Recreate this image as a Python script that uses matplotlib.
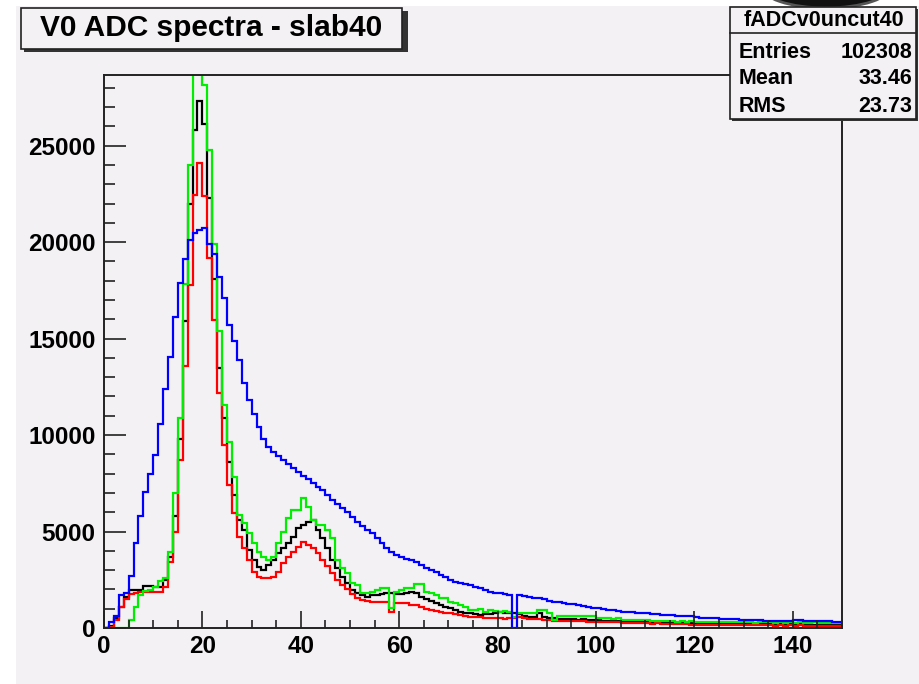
import numpy as np
import matplotlib
matplotlib.use("Agg")
import matplotlib.pyplot as plt
from matplotlib.patches import Rectangle, Ellipse
from matplotlib.ticker import MultipleLocator

plt.rcParams['font.family'] = ['Liberation Sans', 'DejaVu Sans']

# ADC bin edges (1 count per bin, 0..150)
bin_edges = list(range(0, 151))

# counts per bin, slab 40
black_counts = [
    0, 100, 500, 1100, 1600, 1950, 1950, 1950, 2200, 2200,
    2150, 2150, 2500, 3700, 5800, 9800, 15900, 22000, 25800, 27300,
    26150, 22300, 18100, 13500, 10900, 8600, 6900, 5600, 5080, 4040,
    3520, 3180, 3000, 3260, 3520, 3870, 4140, 4390, 4730, 5160,
    5340, 5500, 5600, 5080, 4660, 4140, 3520, 3090, 2660, 2310,
    1970, 1800, 1710, 1620, 1710, 1710, 1750, 1800, 1800, 1750,
    1750, 1800, 1880, 1800, 1620, 1500, 1400, 1280, 1190, 1100,
    1020, 930, 850, 800, 760, 720, 680, 700, 750, 800,
    820, 800, 780, 760, 700, 620, 590, 590, 760, 550,
    500, 500, 480, 460, 450, 450, 440, 450, 430, 440,
    420, 380, 360, 350, 350, 330, 330, 320, 310, 320,
    300, 300, 290, 290, 280, 280, 270, 260, 260, 250,
    240, 230, 240, 220, 230, 220, 210, 220, 210, 220,
    200, 210, 200, 210, 200, 190, 200, 190, 200, 190,
    180, 190, 180, 190, 180, 170, 180, 170, 180, 170,
]

red_counts = [
    0, 50, 400, 1100, 1500, 1750, 1800, 1850, 1850, 1850,
    1850, 1850, 2100, 3400, 5000, 8700, 13600, 17800, 22450, 24100,
    22400, 19200, 15950, 12200, 9500, 7400, 5950, 4700, 4150, 3500,
    2900, 2650, 2600, 2600, 2650, 2900, 3350, 3700, 3950, 4200,
    4450, 4300, 4150, 3900, 3500, 3200, 2850, 2500, 2250, 2000,
    1750, 1550, 1450, 1400, 1350, 1330, 1350, 1350, 850, 1290,
    1290, 1290, 1200, 1200, 1100, 1000, 930, 900, 850, 800,
    760, 700, 670, 620, 590, 590, 560, 520, 500, 500,
    500, 480, 500, 520, 560, 500, 480, 450, 450, 430,
    420, 380, 380, 370, 370, 360, 350, 340, 330, 330,
    330, 320, 330, 320, 300, 260, 250, 250, 240, 250,
    240, 230, 240, 230, 220, 230, 210, 200, 190, 160,
    170, 150, 160, 150, 140, 150, 140, 150, 140, 150,
    140, 130, 140, 130, 140, 130, 120, 130, 120, 130,
    120, 130, 120, 110, 120, 110, 120, 110, 120, 110,
]

green_counts = [
    0, 0, 0, 0, 0, 400, 1100, 1700, 1900, 1970,
    2100, 2450, 2600, 3950, 7000, 10900, 17850, 24000, 31500, 30500,
    28150, 24800, 19900, 15400, 11550, 9650, 7840, 5850, 5420, 4900,
    4390, 3950, 3690, 3520, 3690, 4390, 4990, 5680, 6110, 6110,
    6720, 6280, 5600, 5340, 5340, 5080, 4650, 3520, 3090, 2830,
    2310, 2230, 1800, 1800, 1850, 1970, 2060, 2060, 1020, 1850,
    1970, 2060, 2060, 2280, 2280, 1850, 1800, 1710, 1540, 1540,
    1360, 1280, 1190, 1100, 930, 930, 980, 850, 930, 880,
    850, 900, 850, 590, 760, 760, 760, 800, 930, 930,
    760, 410, 620, 620, 620, 600, 620, 620, 600, 620,
    500, 520, 500, 480, 500, 410, 430, 410, 400, 420,
    400, 360, 350, 370, 340, 360, 330, 350, 320, 340,
    310, 330, 300, 320, 300, 330, 290, 310, 300, 320,
    290, 310, 280, 300, 290, 310, 280, 300, 280, 290,
    270, 290, 280, 270, 290, 270, 280, 270, 280, 270,
]

blue_counts = [
    0, 300, 600, 1700, 1800, 2700, 4400, 5800, 7050, 8000,
    8950, 10600, 12400, 14050, 16100, 17900, 19150, 20100, 20500, 20650,
    20750, 19900, 19400, 18200, 17100, 15700, 14900, 13900, 12700, 11800,
    11100, 10400, 9800, 9400, 9100, 8900, 8700, 8500, 8300, 8100,
    7900, 7700, 7500, 7300, 7150, 6900, 6650, 6450, 6200, 6000,
    5750, 5500, 5300, 5100, 4900, 4650, 4400, 4150, 3950, 3800,
    3700, 3600, 3500, 3400, 3250, 3130, 3000, 2880, 2750, 2620,
    2490, 2400, 2310, 2270, 2230, 2150, 2060, 1970, 1880, 1840,
    1800, 1750, 1710, 0, 1710, 1650, 1620, 1580, 1530, 1480,
    1420, 1370, 1340, 1300, 1260, 1230, 1190, 1150, 1100, 1060,
    1020, 990, 950, 920, 880, 850, 840, 830, 800, 790,
    790, 750, 710, 680, 660, 650, 640, 630, 620, 610,
    590, 520, 510, 500, 500, 490, 480, 480, 470, 420,
    400, 400, 390, 390, 380, 380, 380, 370, 370, 360,
    420, 410, 370, 360, 350, 350, 340, 340, 330, 330,
]

x_major_ticks = [0, 20, 40, 60, 80, 100, 120, 140]
y_major_ticks = [0, 5000, 10000, 15000, 20000, 25000]

title_text = "V0 ADC spectra - slab40"
stats_name = "fADCv0uncut40"
stats_rows = [("Entries", "102308"), ("Mean", "33.46"), ("RMS", "23.73")]

BG = "#f4f1f5"
W, H = 920, 684

fig = plt.figure(figsize=(W / 100, H / 100), dpi=100)
fig.patch.set_facecolor("white")

def fx(px):
    return px / W

def fy(py):
    return 1 - py / H

# canvas area
fig.patches.append(Rectangle((fx(16), 0), fx(920 - 16), fy(6), transform=fig.transFigure,
                             facecolor=BG, edgecolor="none", zorder=-5))

ax = fig.add_axes([fx(104), fy(628), fx(842 - 104), (628 - 75) / H])
ax.set_facecolor(BG)
ax.set_zorder(1)

edges = np.array(bin_edges, dtype=float)
for counts, color in [(black_counts, "black"), (red_counts, "#ff0000"),
                      (green_counts, "#00ee00"), (blue_counts, "#0000ff")]:
    ax.stairs(np.array(counts, dtype=float), edges, baseline=None,
              color=color, linewidth=1.6)

ymax = max(black_counts) * 1.05
ax.set_xlim(0, 150)
ax.set_ylim(0, ymax)

ax.set_xticks(x_major_ticks)
ax.set_yticks(y_major_ticks)
ax.xaxis.set_minor_locator(MultipleLocator(5))
ax.yaxis.set_minor_locator(MultipleLocator(1000))
ax.tick_params(axis="both", which="both", direction="in", top=False, right=False,
               width=1.2, color="#222222")
ax.tick_params(axis="y", which="major", length=16, pad=6, labelsize=17.5)
ax.tick_params(axis="y", which="minor", length=8)
ax.tick_params(axis="x", which="major", length=12, pad=5, labelsize=17.5)
ax.tick_params(axis="x", which="minor", length=6)
for lab in ax.get_xticklabels() + ax.get_yticklabels():
    lab.set_fontweight("bold")
for s in ax.spines.values():
    s.set_linewidth(1.4)
    s.set_color("#222222")

# title box with shadow
fig.patches.append(Rectangle((fx(24), fy(52)), fx(405 - 21), (52 - 11) / H,
                             transform=fig.transFigure, facecolor="#333333",
                             edgecolor="none", zorder=3))
fig.patches.append(Rectangle((fx(21), fy(49)), fx(405 - 24), (49 - 8) / H,
                             transform=fig.transFigure, facecolor=BG,
                             edgecolor="#222222", linewidth=1.2, zorder=4))
fig.text(fx(211), fy(28), title_text, ha="center", va="center",
         fontsize=21.5, fontweight="bold", zorder=5)

# statistics box
fig.patches.append(Rectangle((fx(732), fy(121)), fx(918 - 732), (121 - 9) / H,
                             transform=fig.transFigure, facecolor="#333333",
                             edgecolor="none", zorder=3))
fig.patches.append(Rectangle((fx(730), fy(119)), fx(916 - 730), (119 - 7) / H,
                             transform=fig.transFigure, facecolor=BG,
                             edgecolor="#222222", linewidth=1.2, zorder=4))
fig.lines.append(plt.Line2D([fx(730), fx(916)], [fy(33), fy(33)],
                            transform=fig.transFigure, color="#222222",
                            linewidth=1.2, zorder=5))
fig.text(fx(824), fy(21), stats_name, ha="center", va="center",
         fontsize=15.5, fontweight="bold", zorder=6)
for i, (k, v) in enumerate(stats_rows):
    yy = fy(52 + i * 27)
    fig.text(fx(739), yy, k, ha="left", va="center", fontsize=15.5,
             fontweight="bold", zorder=6)
    fig.text(fx(912), yy, v, ha="right", va="center", fontsize=15.5,
             fontweight="bold", zorder=6)

# dark rounded shape at the top edge
fig.patches.append(Ellipse((fx(826), fy(-14)), fx(130), 44 / H,
                           transform=fig.transFigure, facecolor="#111111",
                           edgecolor="#555555", linewidth=2, zorder=2))

fig.savefig("out.png", dpi=100, facecolor=fig.get_facecolor())
